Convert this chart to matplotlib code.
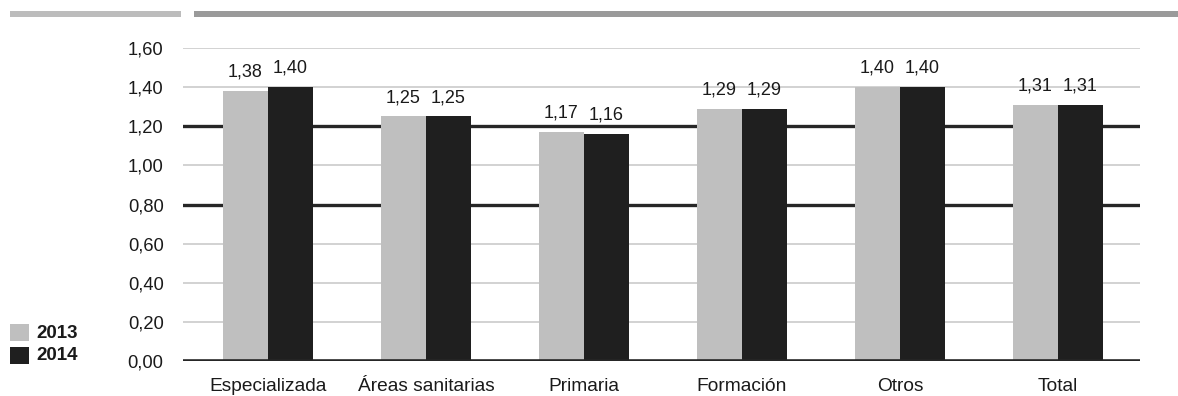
import matplotlib
matplotlib.use("Agg")
import matplotlib.pyplot as plt
from matplotlib.patches import Rectangle
import numpy as np

plt.rcParams["font.family"] = ["Liberation Sans", "DejaVu Sans"]

categories = ["Especializada", "Áreas sanitarias", "Primaria", "Formación", "Otros", "Total"]
years = ["2013", "2014"]
values_2013 = [1.38, 1.25, 1.17, 1.29, 1.40, 1.31]
values_2014 = [1.40, 1.25, 1.16, 1.29, 1.40, 1.31]
yticks = [0.0, 0.2, 0.4, 0.6, 0.8, 1.0, 1.2, 1.4, 1.6]
strong_lines = [0.8, 1.2]

light = "#bfbfbf"
dark = "#1f1f1f"
text_color = "#1a1a1a"

W, H = 1178, 396
fig = plt.figure(figsize=(W / 100, H / 100), dpi=100)
ax = fig.add_axes([183 / W, (H - 361) / H, (1140 - 183) / W, (361 - 48) / H])

x = np.arange(len(categories))
bw = 0.285

def fmt(v):
    return f"{v:.2f}".replace(".", ",")

# gridlines: heavy rules at 0.80 and 1.20, light ones elsewhere
for t in yticks:
    if t in strong_lines:
        ax.axhline(t, color="#262626", lw=2.4, zorder=1)
    elif t > 0:
        ax.axhline(t, color="#d2d2d2", lw=1.4, zorder=1)

b1 = ax.bar(x - bw / 2, values_2013, bw, color=light, zorder=2)
b2 = ax.bar(x + bw / 2, values_2014, bw, color=dark, zorder=2)

for bars, vals in ((b1, values_2013), (b2, values_2014)):
    for r, v in zip(bars, vals):
        ax.annotate(fmt(v), (r.get_x() + r.get_width() / 2, v), xytext=(0, 7.5),
                    textcoords="offset points", ha="center", va="bottom",
                    fontsize=13, color=text_color)

ax.axhline(0, color="#262626", lw=2.6, zorder=3)

ax.set_xlim(-0.538, 5.519)
ax.set_ylim(0, 1.6)
ax.set_yticks(yticks)
ax.set_yticklabels([fmt(t) for t in yticks], fontsize=13.2, color=text_color)
ax.set_xticks(x)
ax.set_xticklabels(categories, fontsize=13.8, color=text_color)
ax.tick_params(axis="both", length=0)
ax.tick_params(axis="y", pad=14)
ax.tick_params(axis="x", pad=12)
for s in ax.spines.values():
    s.set_visible(False)

# top decorative stripes
fig.add_artist(Rectangle((10 / W, (H - 17) / H), (181 - 10) / W, 6 / H,
                         transform=fig.transFigure, color="#bcbcbc", lw=0))
fig.add_artist(Rectangle((194 / W, (H - 17) / H), (W - 194) / W, 6 / H,
                         transform=fig.transFigure, color="#9a9a9a", lw=0))

# legend
for i, (yr, col) in enumerate(zip(years, (light, dark))):
    ytop = 324 + i * 23
    fig.add_artist(Rectangle((10 / W, (H - ytop - 17) / H), 19 / W, 17 / H,
                             transform=fig.transFigure, color=col, lw=0))
    fig.text(36 / W, (H - ytop - 9) / H, yr, fontsize=13.5, fontweight="bold",
             color=text_color, va="center", ha="left")

fig.savefig("out.png", dpi=100)
